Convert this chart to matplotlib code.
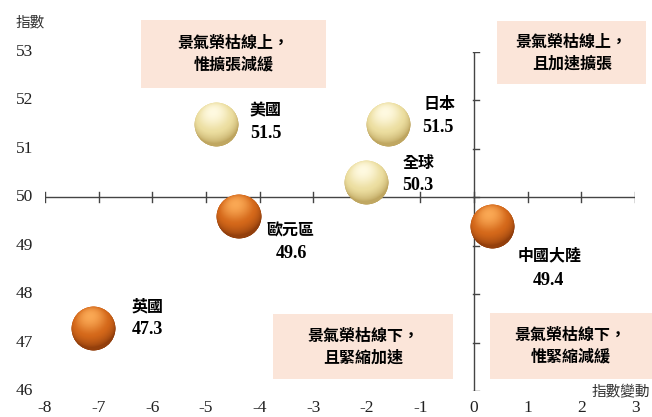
import numpy as np
import matplotlib.pyplot as plt
from matplotlib.offsetbox import OffsetImage, AnnotationBbox
from matplotlib.patches import Rectangle

# 各經濟體 PMI 指數與變動
regions = ['美國', '日本', '全球', '歐元區', '中國大陸', '英國']
change = [-4.8, -1.6, -2.0, -4.4, 0.35, -7.1]
pmi = [51.5, 51.5, 50.3, 49.6, 49.4, 47.3]

x_ticks = list(range(-8, 4))
y_ticks = list(range(46, 54))

# 標籤位移 (像素)：(名稱位移, 數值位移)
label_off = [((49, 14), (49, -9)),
             ((51, 21), (50, -3)),
             ((52, 20), (51, -3)),
             ((52, -14), (53, -37)),
             ((57, -29), (56, -54)),
             ((54, 22), (54, -1))]

CJK = 'Noto Sans CJK TC'
SERIF = 'Liberation Serif'
W, H = 652, 417


def ball(base, light, dark, n=120):
    # 產生帶光影的球體圖
    v, u = np.mgrid[1:-1:n * 1j, -1:1:n * 1j]
    r2 = u ** 2 + v ** 2
    nz = np.sqrt(np.clip(1 - r2, 0, 1))
    L = np.array([-0.15, 0.55, 0.82])
    L = L / np.linalg.norm(L)
    d = np.clip(u * L[0] + v * L[1] + nz * L[2], 0, 1)
    base = np.array(base) / 255
    light = np.array(light) / 255
    dark = np.array(dark) / 255
    t = d[..., None]
    col = np.where(t > 0.6, base + (light - base) * ((t - 0.6) / 0.4) ** 1.5,
                   dark + (base - dark) * (t / 0.6) ** 0.8)
    # 底部反光
    refl = np.clip(-v - 0.55, 0, 1)[..., None] * nz[..., None] * 0.35
    col = np.clip(col + refl * (base - col), 0, 1)
    alpha = np.clip((1 - np.sqrt(r2)) * n / 2.5, 0, 1)
    return np.dstack([col, alpha])


cream = ball((236, 222, 160), (255, 250, 225), (190, 165, 95))
orange = ball((212, 104, 26), (250, 168, 84), (145, 62, 12))

fig = plt.figure(figsize=(W / 100, H / 100), dpi=100)
ax = fig.add_axes([45 / W, 26 / H, 590 / W, 339 / H])
ax.set_xlim(-8, 3)
ax.set_ylim(46, 53)
ax.axis('off')

# 座標軸線與刻度
ax.plot([-8, 3], [50, 50], color='#444444', lw=1, zorder=2)
ax.plot([0, 0], [46, 53], color='#444444', lw=1, zorder=2)
xt = ax.get_xaxis_transform()
yt = ax.get_yaxis_transform()
for x in x_ticks:
    ax.plot([x, x], [50 - 0.1, 50 + 0.1], color='#444444', lw=1, zorder=2)
    ax.text(x, -0.05, str(x), transform=xt, ha='center', va='center',
            fontsize=12.5, family=SERIF, color='#222222')
for y in y_ticks:
    ax.plot([-0.02, 0.09], [y, y], color='#444444', lw=1, zorder=2)
    ax.text(-0.035, y, str(y), transform=yt, ha='center', va='center',
            fontsize=12.5, family=SERIF, color='#222222')

fig.text(16 / W, 1 - 22 / H, '指數', fontsize=10.5, family=CJK,
         color='#333333', ha='left', va='center')
fig.text(650 / W, 1 - 392 / H, '指數變動', fontsize=10.5, family=CJK,
         color='#333333', ha='right', va='center')

# 象限說明框
boxes = [(-6.21, 52.26, 3.45, 1.40, '景氣榮枯線上，\n惟擴張減緩'),
         (0.43, 52.34, 2.78, 1.30, '景氣榮枯線上，\n且加速擴張'),
         (-3.75, 46.25, 3.36, 1.34, '景氣榮枯線下，\n且緊縮加速'),
         (0.30, 46.25, 3.01, 1.36, '景氣榮枯線下，\n惟緊縮減緩')]
for bx, by, bw, bh, txt in boxes:
    ax.add_patch(Rectangle((bx, by), bw, bh, facecolor='#FBE5D9',
                           edgecolor='none', clip_on=False, zorder=1))
    ax.text(bx + bw / 2, by + bh / 2, txt, ha='center', va='center',
            fontsize=11.5, family=CJK, weight='bold', linespacing=1.45,
            zorder=3)

# 球體與標籤
for name, cx, cy, (noff, voff) in zip(regions, change, pmi, label_off):
    img = cream if cy >= 50 else orange
    ab = AnnotationBbox(OffsetImage(img, zoom=45 / 120, dpi_cor=False),
                        (cx, cy), frameon=False, zorder=4)
    ax.add_artist(ab)
    ax.annotate(name, (cx, cy), xytext=noff, textcoords='offset pixels',
                ha='center', va='center', fontsize=11.5, family=CJK,
                weight='bold', zorder=5)
    ax.annotate(f'{cy:.1f}', (cx, cy), xytext=voff, textcoords='offset pixels',
                ha='center', va='center', fontsize=13, family=SERIF,
                weight='bold', zorder=5)

fig.savefig('out.png', dpi=100)
